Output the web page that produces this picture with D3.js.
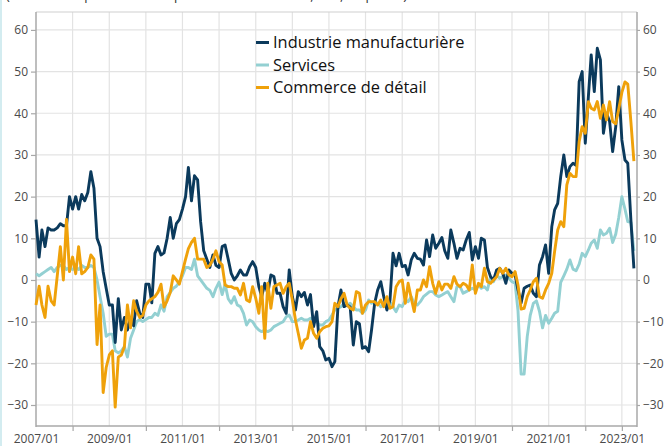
<!DOCTYPE html>
<html>
<head>
<meta charset="utf-8">
<script src="https://cdnjs.cloudflare.com/ajax/libs/d3/7.8.5/d3.min.js"></script>
<style>
  body { margin:0; background:#fff; }
  svg  { display:block; font-family:'Open Sans', sans-serif; }
</style>
</head>
<body>
<div id="chart"></div>
<script>
// monthly series, 2007/01 -> 2023/05
var start = new Date(2007,0,1);
var industrie = [
  14.5, 5.5, 12, 8, 12.5, 12, 12, 12.5, 13.5, 13, 13, 20,
  17, 20, 17, 20.5, 19, 21, 26, 22, 10, 8, 2, -2,
  -6, -6, -15, -4.5, -12, -9, -12, -9, -11, -5, -8, -9,
  -1, -1, -5.5, 6.4, 8, 6, 6.5, 10, 15, 10, 13.5, 14.5,
  17, 20, 27, 19, 25, 24, 14, 7, 5, 3, 6, 3.5,
  3, 8, 8.4, 5, 1.6, 0, 1, 2.4, 1.2, 1.2, 3.2, 4.4,
  3, -1.6, -4, -0.8, -3.2, 1.2, 0.8, -3.2, -3.2, -6.4, -8, 2.4,
  -4, -7.2, -2.8, -4, -3, -6, -3.5, -11.2, -7.6, -16, -17, -19.2,
  -18.8, -20.8, -19.6, -6.4, -2.4, -6.4, -6, -6.5, -15.6, -10, -10.5, -16.4,
  -16, -17.2, -12, -5.6, -2.4, -0.4, -4, -7.2, -4.8, 6.4, 3.4, 6.4,
  3.2, 3.5, 1.2, 4.8, 6.4, 5.2, 5, 3.6, 9.6, 5.6, 10.8, 7.6,
  8.8, 10.2, 7, 5.2, 12, 8.8, 5.2, 7.6, 7.2, 9.6, 11.4, 4.8,
  8, 5.2, 10, 9.6, 3, 0.8, 0, 2.4, 2.8, 1.6, -0.8, 2.4,
  1.6, 1.2, -2.4, -5.5, -2, -1.5, -1.2, -3.2, -4, 3.6, 5.6, 8.4,
  1.6, 12.8, 16.8, 18.4, 24.8, 30, 24.8, 27.2, 28, 27.5, 47.6, 50,
  32.8, 44, 54, 45.2, 55.6, 52.8, 35.2, 40, 38, 30.8, 36.8, 46.4,
  33.6, 28.8, 28, 14.4, 2.8
];
var services = [
  1.5, 1, 1.5, 2, 2.5, 3, 2, 3, 3.5, 3.5, 2.5, 3,
  2.5, 3, 2.5, 3.5, 3, 3, 3.5, 3, 0, -4, -8, -13.5,
  -13, -13, -17, -17.5, -17, -16, -18.5, -14, -12, -10, -9.5, -10,
  -9.5, -9, -9, -8, -8.5, -6, -7.5, -4, -3, -2, -1.5, -0.5,
  1, 3, 3, 2.5, 5, 1, 0, -1, -2, -2.5, -4, -2,
  -0.5, -3.5, -1, -4.5, -5.6, -4, -6, -6.4, -8, -10.8, -9.6, -10,
  -11.2, -12, -12.4, -12, -12.4, -12, -11.2, -10.8, -10.4, -10, -8.8, -8.4,
  -10, -10, -9.6, -9.2, -9.6, -9.6, -9.2, -9.6, -10, -10.8, -10.8, -10,
  -9.6, -8.4, -7.2, -6.8, -6.4, -5.6, -6, -5.6, -6.4, -7.2, -7.2, -8,
  -7.2, -4.8, -5.6, -5.2, -5.6, -6.4, -6, -6, -5.2, -6.4, -7.6, -6,
  -6.4, -4.8, -5.2, -4, -5.6, -6, -5.2, -4, -3.4, -2.8, -2.8, -3.6,
  -4, -3.6, -3.2, -2.8, -4, -5.2, -1.6, -1.6, -3.2, -2.8, -2.4, -2,
  -2.4, -1.2, -2, -1.6, -2.4, 0.8, -0.4, 1.2, 0.4, 0.8, 1.2, 0.4,
  -0.4, -0.8, -7.4, -22.6, -22.6, -13.6, -8.5, -5.6, -5, -7.5, -11.5, -8.5,
  -10.4, -9.2, -8, -7.5, -0.6, 1, 2.6, 4.8, 2.6, 2.2, 3.8, 6.4,
  5.6, 7.2, 8.8, 9.6, 7.6, 12, 10.8, 11.2, 12.4, 9, 11, 15,
  20, 17, 14, 13.8, 7
];
var commerce = [
  -6, -1.5, -6, -9, -1.5, -5, -6, 1, 8, 0, 14.5, 2,
  5.5, 1.5, 8, 1.5, 2, 3, 6, 5, -15.5, -6, -27, -21,
  -18, -17, -30.5, -18.5, -18, -16, -6, -11.5, -5, -7.5, -9, -8.5,
  -6, -5, -4.5, -4, -3, -1, -6.5, -5, -3, 1, 0, -1,
  2, 5, 7.5, 9, 10, 5, 5, 5, 3, 3.5, 5, 7,
  4.4, 3.6, -1.2, -1.6, -1.6, -2, -2, -3.6, -0.8, -4.8, -5.2, -1.6,
  -4.4, -8, -1.6, -14, -0.8, -6.8, -1.6, -1.2, -0.8, -3.2, -1.6, -0.8,
  -4.8, -9.6, -12.8, -16.4, -14.4, -14, -10, -12.8, -14, -12.4, -11.6, -11.2,
  -11, -10, -5.6, -6.4, -4.5, -3.2, -6, -6.8, -7.2, -2.8, -3.2, -8,
  -6, -5.2, -5.2, -5.2, -6, -4.8, -6.4, -4, -6.8, -6.4, -1.6, -0.4,
  0, -5.6, -0.8, -4.4, -7.6, -2.4, -2.4, 0, -1.6, 3.2, -0.8, -3.2,
  -0.4, -2.4, -1, -1, -2, 0.8, -1, -1.6, -0.8, -1.2, -2.4, 3.6,
  -3.2, -0.8, -1.6, 2.8, -0.4, -0.8, 0, 0.8, 2.8, 1.6, 2.8, 1.2,
  0.8, 2, -1.2, -7, -6.8, -4, -2.4, -0.4, 0.4, -4, -4.4, -2.4,
  -0.8, 1.6, 6.8, 12, 14, 12.8, 22.8, 25.6, 24.8, 24.8, 33.2, 36.8,
  35.2, 42.8, 41.2, 40.8, 42.8, 38.8, 42, 38.4, 42.8, 38, 37.5, 41,
  45, 47.5, 47, 38, 28.5
];
var names   = ['Industrie manufacturière','Services','Commerce de détail'];
var colors  = ['#0b3a5c','#93d0d2','#efa10a'];
var yticks  = [-30,-20,-10,0,10,20,30,40,50,60];
var xlabels = ['2007/01','2009/01','2011/01','2013/01','2015/01','2017/01','2019/01','2021/01','2023/01'];

var W = 667, H = 446;
var L = 36, R = 637, T = 12, B = 426;

var svg = d3.select('#chart').append('svg').attr('width',W).attr('height',H);

// cut-off subtitle and page edge
svg.append('text').attr('x',6).attr('y',0).attr('fill','#333').style('font-size','13px')
  .text('(Solde des réponses sur les prix de vente attendus, CVS, en points)');
svg.append('rect').attr('x',0).attr('y',0).attr('width',2).attr('height',H).attr('fill','#d3ecf0');

var months = industrie.map(function(d,i){return d3.timeMonth.offset(start,i);});
var parse  = d3.timeParse('%Y/%m');
var x = d3.scaleTime().domain([start,new Date(2023,5,1)]).range([L,R]);
var y = d3.scaleLinear().domain([-35.04,64.3]).range([B,T]);

// grid
var years = d3.timeYear.range(new Date(2008,0,1),new Date(2024,0,1));
svg.append('g').selectAll('line').data(years).enter().append('line')
  .attr('x1',function(d){return x(d);}).attr('x2',function(d){return x(d);})
  .attr('y1',T).attr('y2',B).attr('stroke','#e3e3e3').attr('stroke-width',1.2);
svg.append('g').selectAll('line').data(yticks).enter().append('line')
  .attr('x1',L).attr('x2',R).attr('y1',function(d){return y(d);}).attr('y2',function(d){return y(d);})
  .attr('stroke','#e3e3e3').attr('stroke-width',1.2);

// frame
svg.append('line').attr('x1',L).attr('x2',R).attr('y1',T).attr('y2',T).attr('stroke','#cfcfcf');
svg.append('line').attr('x1',L).attr('x2',L).attr('y1',T).attr('y2',B+1).attr('stroke','#a8a8a8').attr('stroke-width',1.5);
svg.append('line').attr('x1',R).attr('x2',R).attr('y1',T).attr('y2',B+1).attr('stroke','#a8a8a8').attr('stroke-width',1.5);
svg.append('line').attr('x1',L).attr('x2',R).attr('y1',B).attr('y2',B).attr('stroke','#a8a8a8').attr('stroke-width',1.5);

// axes
var fmt = function(d){return d < 0 ? '\u2212'+Math.abs(d) : d;};
svg.append('g').attr('transform','translate('+L+',0)')
  .call(d3.axisLeft(y).tickValues(yticks).tickSize(5).tickPadding(3).tickFormat(fmt));
svg.append('g').attr('transform','translate('+R+',0)')
  .call(d3.axisRight(y).tickValues(yticks).tickSize(3).tickPadding(3).tickFormat(fmt));
var tickyears = years.filter(function(d){return d.getFullYear()%2==0;}).concat([new Date(2023,0,1)]);
svg.append('g').attr('transform','translate(0,'+B+')')
  .call(d3.axisBottom(x).tickValues(tickyears).tickSize(5).tickFormat(''));
svg.append('g').attr('transform','translate(0,'+B+')')
  .call(d3.axisBottom(x).tickValues(xlabels.map(parse)).tickSize(0).tickPadding(8).tickFormat(d3.timeFormat('%Y/%m')));
svg.selectAll('.domain').remove();
svg.selectAll('.tick line').attr('stroke','#a8a8a8').attr('stroke-width',1.2);
svg.selectAll('.tick text').attr('fill','#4a4a4a').style('font-size','12px').style('font-family','Open Sans, sans-serif');

// lines
var line = d3.line().x(function(d,i){return x(months[i]);}).y(function(d){return y(d);});
var series = [services,industrie,commerce];
var scol   = [colors[1],colors[0],colors[2]];
svg.append('g').selectAll('path').data(series).enter().append('path')
  .attr('d',line).attr('fill','none')
  .attr('stroke',function(d,i){return scol[i];})
  .attr('stroke-width',2.9).attr('stroke-linejoin','round');

// legend
var leg = svg.append('g').attr('transform','translate(256,0)');
var item = leg.selectAll('g').data(names).enter().append('g')
  .attr('transform',function(d,i){return 'translate(0,'+(48+i*22.5)+')';});
item.append('rect').attr('x',0).attr('y',-7).attr('width',13).attr('height',3)
  .attr('fill',function(d,i){return colors[i];});
item.append('text').attr('x',17).attr('y',0).attr('fill','#111').style('font-size','16.4px')
  .text(function(d){return d;});
</script>
</body>
</html>
